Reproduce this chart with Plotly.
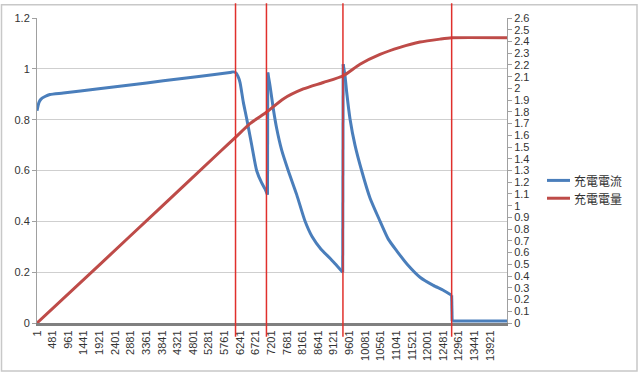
import plotly.graph_objects as go

# ---- data ----
x_tick_labels = ["1", "481", "961", "1441", "1921", "2401", "2881", "3361", "3841", "4321",
                 "4801", "5281", "5761", "6241", "6721", "7201", "7681", "8161", "8641", "9121",
                 "9601", "10081", "10561", "11041", "11521", "12001", "12481", "12961", "13441", "13921"]

current_idx = [1, 62, 124, 247, 400, 809, 1835, 2858, 3881, 4907, 5930, 6031, 6114, 6176, 6237,
               6339, 6443, 6597, 6750, 6904, 7005, 7082, 7090, 7159, 7260, 7365, 7518, 7721,
               7979, 8234, 8450, 8727, 9002, 9208, 9392, 9407, 9463, 9515, 9616, 9770, 9976,
               10231, 10538, 10793, 11051, 11407, 11767, 12175, 12482, 12740, 12755, 14440]
current_val = [0.835, 0.868, 0.881, 0.891, 0.899, 0.905, 0.921, 0.936, 0.953, 0.969, 0.986, 0.988,
               0.984, 0.970, 0.947, 0.869, 0.804, 0.700, 0.599, 0.551, 0.528, 0.505, 0.986, 0.934,
               0.843, 0.765, 0.680, 0.599, 0.505, 0.401, 0.340, 0.290, 0.255, 0.226, 0.200, 1.018,
               0.973, 0.908, 0.804, 0.700, 0.599, 0.492, 0.401, 0.330, 0.284, 0.226, 0.180, 0.148,
               0.129, 0.109, 0.008, 0.008]

# sample indices where the current steps abruptly (start of a new phase)
current_steps = [7090, 9407, 12755]

charge_idx = [1, 1936, 3780, 5623, 6114, 6544, 7057, 7567, 8182, 8796, 9411, 9924, 10538, 11152,
              11767, 12381, 12740, 14440]
charge_val = [0.0, 0.50, 0.98, 1.46, 1.587, 1.70, 1.798, 1.91, 1.995, 2.05, 2.108, 2.206, 2.29,
              2.35, 2.395, 2.42, 2.431, 2.431]

phase_marks = [6100, 7050, 9400, 12740]

series_names = ["充電電流", "充電電量"]
series_colors = ["#4A7EBB", "#BE4B48"]

# ---- figure ----
PL, PR, PT, PB = 37, 507, 15, 323
W, H = 640, 373


def px_x(p):
    return (p - PL) / (PR - PL)


def px_y(p):
    return (PB - p) / (PB - PT)


fig = go.Figure()

# current: smooth pieces between the abrupt steps, straight vertical steps
cuts = [0] + [current_idx.index(s) for s in current_steps] + [len(current_idx)]
for a, b in zip(cuts[:-1], cuts[1:]):
    xs, ys = current_idx[a:b], current_val[a:b]
    fig.add_trace(go.Scatter(x=xs, y=ys, mode="lines", name=series_names[0],
                             line=dict(color=series_colors[0], width=3,
                                       shape="spline" if len(xs) > 2 else "linear", smoothing=0.6),
                             yaxis="y", showlegend=False, hoverinfo="skip"))
for s in cuts[1:-1]:
    fig.add_trace(go.Scatter(x=current_idx[s - 1:s + 1], y=current_val[s - 1:s + 1], mode="lines",
                             line=dict(color=series_colors[0], width=3), yaxis="y",
                             showlegend=False, hoverinfo="skip"))

fig.add_trace(go.Scatter(x=charge_idx, y=charge_val, mode="lines", name=series_names[1],
                         line=dict(color=series_colors[1], width=3, shape="spline", smoothing=0.6),
                         yaxis="y2", showlegend=False, hoverinfo="skip"))

shapes = []
for m in phase_marks:
    shapes.append(dict(type="line", xref="x", yref="paper", x0=m, x1=m,
                       y0=px_y(337), y1=px_y(0), line=dict(color="#E0302C", width=1.5), layer="above"))
# chart border
shapes.append(dict(type="rect", xref="paper", yref="paper", x0=px_x(1.5), x1=px_x(637),
                   y0=px_y(371.5), y1=px_y(1.5), line=dict(color="#C8C8C8", width=1.5), layer="below"))
# legend samples
legend_y = [179, 197]
annotations = []
for name, col, ly in zip(series_names, series_colors, legend_y):
    shapes.append(dict(type="line", xref="paper", yref="paper", x0=px_x(547), x1=px_x(570),
                       y0=px_y(ly), y1=px_y(ly), line=dict(color=col, width=3)))
    annotations.append(dict(xref="paper", yref="paper", x=px_x(572), y=px_y(ly), text=name,
                            showarrow=False, xanchor="left", yanchor="middle",
                            font=dict(family="Noto Sans CJK TC", size=12, color="#333333")))

fig.update_layout(
    width=W, height=H, autosize=False,
    margin=dict(l=PL, r=W - PR, t=PT, b=H - PB),
    paper_bgcolor="white", plot_bgcolor="white",
    font=dict(family="Liberation Sans", size=11, color="#333333"),
    shapes=shapes, annotations=annotations,
    xaxis=dict(range=[1, 14440], tickvals=[int(t) for t in x_tick_labels], ticktext=x_tick_labels,
               tickangle=-90, showgrid=False, zeroline=False, showline=True,
               linecolor="#808080", linewidth=3, ticks="", ticklen=0),
    yaxis=dict(range=[0, 1.2], tickvals=[0, 0.2, 0.4, 0.6, 0.8, 1.0, 1.2],
               ticktext=["0", "0.2", "0.4", "0.6", "0.8", "1", "1.2"],
               showgrid=True, gridcolor="#CFCFCF", gridwidth=1, zeroline=False,
               showline=True, linecolor="#A0A0A0", linewidth=1,
               ticks="outside", ticklen=4, tickcolor="#A0A0A0"),
    yaxis2=dict(range=[0, 2.6], dtick=0.1, tick0=0, overlaying="y", side="right",
                showgrid=False, zeroline=False, showline=True, linecolor="#A0A0A0", linewidth=1,
                ticks="outside", ticklen=4, tickcolor="#A0A0A0"),
)

fig.write_html("out.html", config={"displayModeBar": False},
               post_script="document.body.style.margin='0';document.body.style.overflow='hidden';")
